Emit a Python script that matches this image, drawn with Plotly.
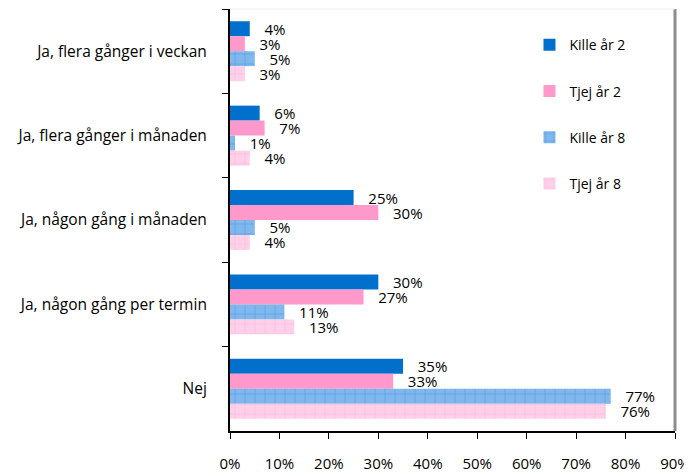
import plotly.graph_objects as go

categories = ["Ja, flera gånger i veckan", "Ja, flera gånger i månaden",
              "Ja, någon gång i månaden", "Ja, någon gång per termin", "Nej"]
series_names = ["Kille år 2", "Tjej år 2", "Kille år 8", "Tjej år 8"]
kille_ar2 = [4, 6, 25, 30, 35]
tjej_ar2 = [3, 7, 30, 27, 33]
kille_ar8 = [5, 1, 5, 11, 77]
tjej_ar8 = [3, 4, 4, 13, 76]
x_ticks = [0, 10, 20, 30, 40, 50, 60, 70, 80, 90]

FONT = "Open Sans"
FS = 15
NB = "\u00a0" * 3

styles = [
    dict(color="#0070CC"),
    dict(color="#FF99CC"),
    dict(color="#80B7EC", pattern=dict(shape="+", fgcolor="#2F80D6", bgcolor="#80B7EC",
                                        size=10, solidity=0.12, fillmode="overlay")),
    dict(color="#FFD0E8", pattern=dict(shape="+", fgcolor="#FF9FCF", bgcolor="#FFD0E8",
                                        size=10, solidity=0.12, fillmode="overlay")),
]

fig = go.Figure()
for name, vals, st in zip(series_names, [kille_ar2, tjej_ar2, kille_ar8, tjej_ar8], styles):
    fig.add_trace(go.Bar(
        y=categories, x=vals, name=name, orientation="h",
        marker=dict(line=dict(width=0), **st),
        text=[NB + f"{v}%" for v in vals], textposition="outside", constraintext="none",
        textfont=dict(family=FONT, size=FS, color="#000000"),
        cliponaxis=False, legendgroup=name,
    ))

# page body has an 8px margin: figure sits at (8, 8) in the window
fig.update_layout(
    width=684, height=468,
    margin=dict(l=222, r=17, t=1, b=45, autoexpand=False),
    paper_bgcolor="white", plot_bgcolor="white",
    barmode="group", bargap=0.29, bargroupgap=0,
    font=dict(family=FONT, size=FS, color="#000000"),
    showlegend=True,
    legend=dict(x=0.673, y=0.952, xanchor="left", yanchor="top",
                font=dict(family=FONT, size=14, color="#000000"),
                tracegroupgap=25, bgcolor="rgba(0,0,0,0)"),
    xaxis=dict(range=[0, 90], tickvals=x_ticks, ticktext=[f"{t}%" for t in x_ticks],
               showgrid=False, zeroline=False, showline=True, linecolor="#000000", linewidth=2,
               ticks="outside", ticklen=6, tickcolor="#000000", ticklabelstandoff=12,
               tickfont=dict(family=FONT, size=FS), automargin=False),
    yaxis=dict(autorange="reversed", showgrid=False, showline=True, linecolor="#000000", linewidth=2,
               ticks="outside", ticklen=6, tickcolor="#000000", tickson="boundaries",
               ticklabelstandoff=18, tickfont=dict(family=FONT, size=15.5), automargin=False),
    shapes=[
        dict(type="line", xref="paper", yref="paper", x0=1, x1=1, y0=0, y1=1,
             line=dict(color="#8C8C8C", width=3)),
        dict(type="line", xref="paper", yref="paper", x0=0, x1=1, y0=1, y1=1,
             line=dict(color="#EEEEEE", width=1)),
    ],
)

fig.write_html("out.html")
